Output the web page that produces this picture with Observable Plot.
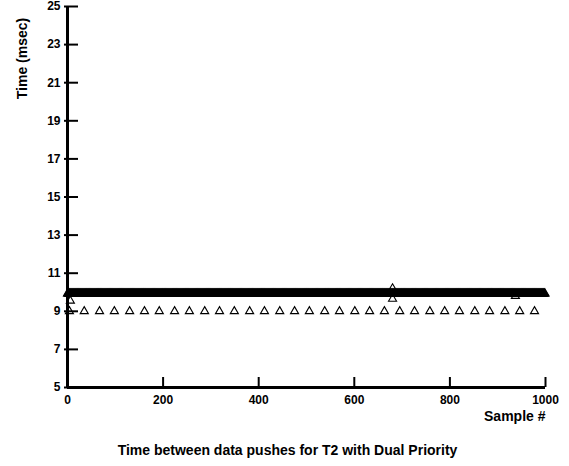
<!DOCTYPE html>
<html>
<head>
<meta charset="utf-8">
<script src="https://cdn.jsdelivr.net/npm/d3@7"></script>
<script src="https://cdn.jsdelivr.net/npm/@observablehq/plot@0.6"></script>
<style>
  html, body { margin: 0; padding: 0; background: #fff; }
  svg { display: block; }
</style>
</head>
<body>
<div id="chart"></div>
<script>
// Data
const sampleCount = 1000;              // samples 0..999
const bandValue = 9.93;                // nearly all samples sit at ~10 msec
const lowSamples = [4, 35, 67, 98, 130, 161, 192, 224, 255, 287, 318, 349, 381, 412, 444, 475,
                    506, 538, 569, 601, 632, 663, 695, 726, 758, 789, 820, 852, 883, 915, 946, 977];
const lowValue = 9.0;
const outlierSamples = [6, 680, 680, 937];
const outlierValues  = [9.55, 10.2, 9.65, 9.8];
const xTicks = [0, 200, 400, 600, 800, 1000];
const yTicks = [5, 7, 9, 11, 13, 15, 17, 19, 21, 23, 25];

const band = Array.from({length: sampleCount}, (_, i) => ({s: i, t: bandValue}));
const lows = lowSamples.map(s => ({s, t: lowValue}));
const outliers = outlierSamples.map((s, i) => ({s, t: outlierValues[i]}));
const points = [...band, ...lows, ...outliers];

const font = "'Liberation Sans', Arial, sans-serif";

const chart = Plot.plot({
  width: 569,
  height: 466,
  marginLeft: 67,
  marginRight: 24,
  marginTop: 6,
  marginBottom: 79,
  style: {fontFamily: font, fontSize: "12px", fontWeight: "bold", color: "#000", background: "#fff"},
  x: {domain: [0, 1000]},
  y: {domain: [5, 25]},
  marks: [
    // tick marks pointing inward
    Plot.axisY({ticks: yTicks, tickSize: 14, dx: 11, tickFormat: () => "", strokeWidth: 2, label: null}),
    Plot.axisX({ticks: xTicks, tickSize: 10, dy: -10, tickFormat: () => "", strokeWidth: 2, label: null}),
    // tick labels
    Plot.axisY({ticks: yTicks, tickSize: 0, tickPadding: 7, tickFormat: d => String(d),
      fontWeight: "bold", fontSize: 12, label: null}),
    Plot.axisX({ticks: xTicks, tickSize: 0, tickPadding: 8, tickFormat: d => String(d),
      fontWeight: "bold", fontSize: 12, label: null}),
    // axis lines
    Plot.ruleX([0], {strokeWidth: 3, stroke: "#000"}),
    Plot.ruleY([5], {strokeWidth: 3, stroke: "#000"}),
    // data
    Plot.dot(points, {x: "s", y: "t", symbol: "triangle", r: 3, fill: "none", stroke: "#000", strokeWidth: 1.1}),
    // titles
    Plot.text(["Time (msec)"], {frameAnchor: "top-left", text: d => d, rotate: -90, dx: -50, dy: 52,
      textAnchor: "middle", fontSize: 14, fontWeight: "bold", fill: "#000"}),
    Plot.text(["Sample #"], {frameAnchor: "bottom-right", text: d => d, dy: 33, textAnchor: "end",
      fontSize: 14, fontWeight: "bold", fill: "#000"}),
    Plot.text(["Time between data pushes for T2 with Dual Priority"], {frameAnchor: "bottom", text: d => d,
      dx: -19, dy: 67, textAnchor: "middle", fontSize: 14, fontWeight: "bold", fill: "#000"})
  ]
});
document.getElementById("chart").appendChild(chart);
</script>
</body>
</html>
